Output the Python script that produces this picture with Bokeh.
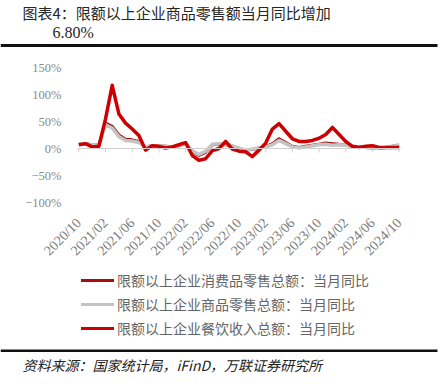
from bokeh.plotting import figure
from bokeh.models import (Range1d, FixedTicker, Span, Label, Legend, LegendItem,
                          BoxAnnotation, ColumnDataSource)
from bokeh.layouts import column
from bokeh.embed import file_html
from bokeh.resources import INLINE
import math

# ---------------- data ----------------
months = ["2020/10", "2020/11", "2020/12",
          "2021/01", "2021/02", "2021/03", "2021/04", "2021/05", "2021/06",
          "2021/07", "2021/08", "2021/09", "2021/10", "2021/11", "2021/12",
          "2022/01", "2022/02", "2022/03", "2022/04", "2022/05", "2022/06",
          "2022/07", "2022/08", "2022/09", "2022/10", "2022/11", "2022/12",
          "2023/01", "2023/02", "2023/03", "2023/04", "2023/05", "2023/06",
          "2023/07", "2023/08", "2023/09", "2023/10", "2023/11", "2023/12",
          "2024/01", "2024/02", "2024/03", "2024/04", "2024/05", "2024/06",
          "2024/07", "2024/08", "2024/09", "2024/10"]

# 限额以上企业消费品零售总额: 当月同比 (%)
consumer_total = [8, 9, 7, 6, 47, 41, 25, 17, 16, 13, 3, 5, 5, 4, 3, 5, 9,
                  -5, -13, -7, 7, 8, 7, 5, 0, -3, -2, 1, 4, 9, 18, 11, 4,
                  2, 4, 6, 8, 10, 9, 8, 6, 4, 3, 2, 1, 1, 2, 4, 6]
# 限额以上企业商品零售总额: 当月同比 (%)
goods_total = [8, 9, 7, 6, 44, 38, 22, 15, 14, 11, 3, 5, 5, 4, 3, 5, 9,
               -4, -11, -5, 8, 9, 8, 5, 0, -3, -1, 1, 3, 7, 15, 9, 3,
               1, 3, 5, 7, 8, 6, 7, 6, 4, 3, 2, 1, 1, 2, 4, 6.8]
# 限额以上企业餐饮收入总额: 当月同比 (%)
catering_total = [7, 9, 3, 4, 55, 117, 64, 47, 36, 24, -3, 5, 4, 1, 3, 7, 11,
                  -13, -22, -19, -4, 0, 13, -1, -5, -6, -15, -3, 10, 36, 46, 32, 18,
                  13, 13, 15, 19, 26, 39, 26, 13, 4, 2, 4, 5, 2, 2, 2, 2]

series_names = ["限额以上企业消费品零售总额：当月同比",
                "限额以上企业商品零售总额：当月同比",
                "限额以上企业餐饮收入总额：当月同比"]
series_colors = ["#a50f0f", "#c4c4c4", "#cc0000"]
series_widths = [3, 3.5, 3.5]

y_ticks = [-100, -50, 0, 50, 100, 150]
y_tick_labels = ["−100%", "−50%", "0%", "50%", "100%", "150%"]
x_tick_step = 4

title_line1 = "图表4：限额以上企业商品零售额当月同比增加"
title_line2 = "6.80%"
source_text = "资料来源：国家统计局，iFinD，万联证券研究所"

W = 445
TOP_H, MAIN_H, BOT_H = 54, 212, 126


def blank_fig(h):
    f = figure(width=W, height=h, output_backend="svg", toolbar_location=None,
               x_range=Range1d(0, W), y_range=Range1d(h, 0),
               x_axis_type=None, y_axis_type=None,
               min_border=0, min_border_left=0, min_border_right=0,
               min_border_top=0, min_border_bottom=0)
    f.outline_line_color = None
    f.grid.visible = False
    f.background_fill_color = "white"
    f.border_fill_color = "white"
    f.frame_align = False
    return f


# ---------------- top: title + rule ----------------
top = blank_fig(TOP_H)
top.add_layout(Label(x=22, y=12, text=title_line1, text_baseline="middle",
                     text_font="Noto Sans CJK SC", text_font_size="15px",
                     text_color="#262626"))
top.add_layout(Label(x=52, y=32, text=title_line2, text_baseline="middle",
                     text_font="Liberation Serif", text_font_size="16px",
                     text_color="#262626"))
top.add_layout(BoxAnnotation(left=0, right=437, top=43.5, bottom=46.5,
                             fill_color="#111111", fill_alpha=1, line_color=None))

# ---------------- main chart ----------------
FL, FT, FW, FH = 77, 13, 323, 137
X0, X1 = -0.2, len(months) - 1 + 0.2
Y0, Y1 = -100, 150

p = figure(width=W, height=MAIN_H, output_backend="svg", toolbar_location=None,
           x_range=Range1d(X0, X1), y_range=Range1d(Y0, Y1),
           min_border_left=FL, min_border_top=FT,
           min_border_right=W - FL - FW, min_border_bottom=MAIN_H - FT - FH)
p.outline_line_color = None
p.grid.visible = False
p.background_fill_color = "white"
p.border_fill_color = "white"
p.frame_align = False

x = list(range(len(months)))
src = ColumnDataSource(dict(x=x, a=consumer_total, b=goods_total, c=catering_total))

# zero axis line with ticks
p.add_layout(Span(location=0, dimension="width", line_color="#d0d0d0", line_width=1.2))
tick_x = x[::x_tick_step]
tick_len = (Y1 - Y0) / FH * 4
p.segment(x0=tick_x, y0=[0] * len(tick_x), x1=tick_x,
          y1=[-tick_len] * len(tick_x), line_color="#d0d0d0", line_width=1)

renderers = []
for col, c, w in zip(["a", "b", "c"], series_colors, series_widths):
    renderers.append(p.line("x", col, source=src, line_color=c, line_width=w,
                            line_join="round"))

xa = p.xaxis[0]
xa.ticker = FixedTicker(ticks=tick_x)
xa.major_label_overrides = {i: months[i] for i in tick_x}
xa.major_label_orientation = math.pi / 4
xa.axis_line_color = None
xa.major_tick_line_color = None
xa.minor_tick_line_color = None
xa.major_label_standoff = 12
xa.major_label_text_font = "Liberation Serif"
xa.major_label_text_font_size = "14px"
xa.major_label_text_color = "#7a7a7a"

ya = p.yaxis[0]
ya.ticker = FixedTicker(ticks=y_ticks)
ya.major_label_overrides = dict(zip(y_ticks, y_tick_labels))
ya.axis_line_color = None
ya.major_tick_line_color = None
ya.minor_tick_line_color = None
ya.major_label_standoff = 10
ya.major_label_text_font = "Liberation Serif"
ya.major_label_text_font_size = "12.5px"
ya.major_label_text_color = "#8a8a8a"

# ---------------- bottom: legend + rule + source ----------------
bot = blank_fig(BOT_H)
# legend-only renderers (a single missing point each, nothing drawn in the plot)
nan = float("nan")
leg_r = [bot.line(x=[nan], y=[nan], line_color=c, line_width=3, line_cap="round")
         for c in series_colors]
legend = Legend(items=[LegendItem(label=n, renderers=[r]) for n, r in zip(series_names, leg_r)],
                location=(81, BOT_H - 72),
                padding=0, margin=0, spacing=4,
                glyph_width=33, glyph_height=20, label_height=20,
                label_standoff=3,
                label_text_font="Noto Sans CJK SC", label_text_font_size="14px",
                label_text_color="#666666",
                border_line_color=None, background_fill_alpha=0)
bot.add_layout(legend)
bot.add_layout(BoxAnnotation(left=0, right=437, top=83, bottom=85.5,
                             fill_color="#111111", fill_alpha=1, line_color=None))
bot.add_layout(Label(x=22, y=98, text=source_text, text_baseline="middle",
                     text_font="Noto Sans CJK SC", text_font_size="14px",
                     text_font_style="italic", text_color="#222222"))

layout = column(top, p, bot, spacing=0)
open("out.html", "w").write(file_html(layout, INLINE))
